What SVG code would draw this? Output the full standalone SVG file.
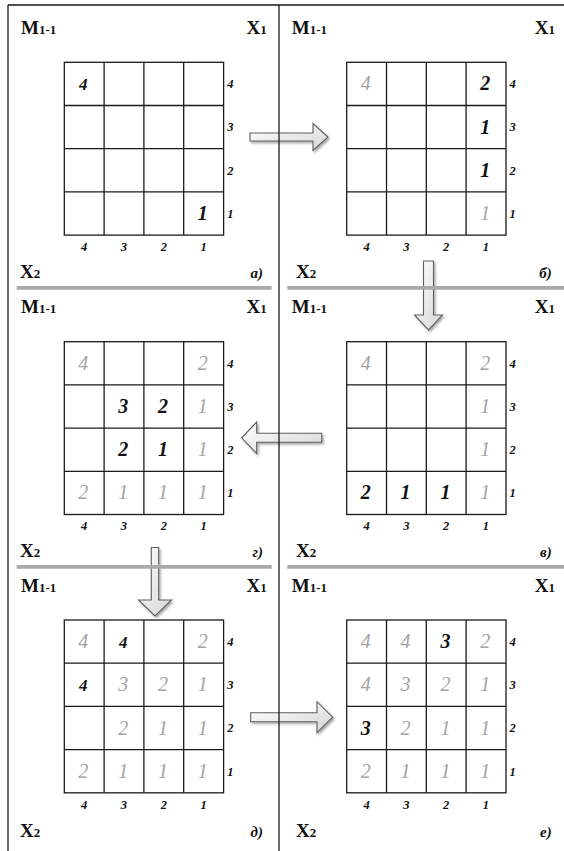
<svg xmlns="http://www.w3.org/2000/svg" xmlns:xlink="http://www.w3.org/1999/xlink" width="564" height="851" viewBox="0 0 564 851">
<style>
.hd{font-family:"Liberation Serif","DejaVu Serif",serif;font-weight:bold;fill:#111}
.big{font-size:19px}
.sub{font-size:13px}
.lt{font-family:"Liberation Serif","DejaVu Serif",serif;font-style:italic;font-weight:bold;font-size:15px;fill:#111;text-anchor:end}
.ax{font-family:"Liberation Serif","DejaVu Serif",serif;font-style:italic;font-weight:bold;font-size:12.5px;fill:#111;text-anchor:middle}
.k{font-family:"Liberation Serif","DejaVu Serif",serif;font-style:italic;font-weight:bold;font-size:20px;fill:#111;text-anchor:middle}
.k4{font-size:17px}
.g{font-family:"Liberation Serif","DejaVu Serif",serif;font-style:italic;font-size:20px;fill:#a3a3a3;text-anchor:middle}
.frame{stroke:#1a1a1a;stroke-width:1.3;fill:none}
.sep{stroke:#aaaaaa;stroke-width:3.8;fill:none}
.arr{fill:url(#ag);stroke:#606060;stroke-width:1.1;stroke-linejoin:miter;filter:url(#sh)}
</style>
<defs>
<linearGradient id="ag" x1="0" y1="0" x2="1" y2="1">
<stop offset="0" stop-color="#ffffff"/>
<stop offset="1" stop-color="#d6d6d6"/>
</linearGradient>
<filter id="sh" x="-30%" y="-30%" width="160%" height="160%">
<feDropShadow dx="1.5" dy="1.8" stdDeviation="1.3" flood-color="#000" flood-opacity="0.35"/>
</filter>
<g id="grid">
<rect x="0" y="0" width="159.3" height="172.8" fill="#fff" stroke="#1a1a1a" stroke-width="1.3"/>
<path d="M39.8 0V172.8M79.6 0V172.8M119.4 0V172.8M0 43.2H159.3M0 86.4H159.3M0 129.6H159.3" stroke="#1a1a1a" stroke-width="1.3" fill="none"/>
<text class="ax" x="19.9" y="188.5">4</text><text class="ax" x="59.7" y="188.5">3</text><text class="ax" x="99.5" y="188.5">2</text><text class="ax" x="139.3" y="188.5">1</text>
<text class="ax" x="166" y="26">4</text><text class="ax" x="166" y="69.2">3</text><text class="ax" x="166" y="112.4">2</text><text class="ax" x="166" y="155.6">1</text>
</g>
</defs>
<rect x="0" y="0" width="564" height="851" fill="#fff"/>

<g id="connectors">
<polygon class="arr" points="250,133 313,133 313,123.5 328,137 313,150.5 313,141 250,141"/>
<polygon class="arr" points="423.5,261 433.5,261 433.5,315 442.5,315 428.5,330 414.5,315 423.5,315"/>
<polygon class="arr" points="321.7,433.3 256.7,433.3 256.7,422 241.7,437.8 256.7,453.6 256.7,442.3 321.7,442.3"/>
<polygon class="arr" points="151.3,547.5 158.7,547.5 158.7,600 171.5,600 155,616 138.5,600 151.3,600"/>
<polygon class="arr" points="250.7,712.7 317,712.7 317,701.7 332.7,717.2 317,732.7 317,721.7 250.7,721.7"/>
</g>

<g id="frame">
<path class="frame" d="M8 5H564M8 5V851M279 5V851"/>
<path class="sep" d="M16.7 287.8H271.7M287.3 287.8H564M16.7 566.8H271.7M287.3 566.8H564"/>
</g>

<g id="panel-a">
<text class="hd" x="21" y="34"><tspan class="big">M</tspan><tspan class="sub">1-1</tspan></text>
<text class="hd" x="266.7" y="34" text-anchor="end"><tspan class="big">X</tspan><tspan class="sub">1</tspan></text>
<text class="hd" x="20" y="278"><tspan class="big">X</tspan><tspan class="sub">2</tspan></text>
<text class="lt" x="263" y="278">а)</text>
<g transform="translate(64.3,62.3)">
<use href="#grid"/>
<text class="k k4" x="19" y="27.6">4</text>
<text class="k" x="138.5" y="28.1" dy="129.6">1</text>
</g>
</g>

<g id="panel-b">
<text class="hd" x="291.7" y="34"><tspan class="big">M</tspan><tspan class="sub">1-1</tspan></text>
<text class="hd" x="555" y="34" text-anchor="end"><tspan class="big">X</tspan><tspan class="sub">1</tspan></text>
<text class="hd" x="296" y="278"><tspan class="big">X</tspan><tspan class="sub">2</tspan></text>
<text class="lt" x="551.7" y="278">б)</text>
<g transform="translate(346.7,62.3)">
<use href="#grid"/>
<text class="g" x="19" y="28.1">4</text>
<text class="k" x="138.5" y="28.1">2</text>
<text class="k" x="138.5" y="71.3">1</text>
<text class="k" x="138.5" y="114.5">1</text>
<text class="g" x="138.5" y="157.7">1</text>
</g>
</g>

<g id="panel-v">
<text class="hd" x="291.7" y="313"><tspan class="big">M</tspan><tspan class="sub">1-1</tspan></text>
<text class="hd" x="555" y="313" text-anchor="end"><tspan class="big">X</tspan><tspan class="sub">1</tspan></text>
<text class="hd" x="296" y="557"><tspan class="big">X</tspan><tspan class="sub">2</tspan></text>
<text class="lt" x="551.7" y="557">в)</text>
<g transform="translate(346.7,341.7)">
<use href="#grid"/>
<text class="g" x="19" y="28.1">4</text>
<text class="g" x="138.5" y="28.1">2</text>
<text class="g" x="138.5" y="71.3">1</text>
<text class="g" x="138.5" y="114.5">1</text>
<text class="k" x="19" y="157.7">2</text>
<text class="k" x="58.9" y="157.7">1</text>
<text class="k" x="98.7" y="157.7">1</text>
<text class="g" x="138.5" y="157.7">1</text>
</g>
</g>

<g id="panel-g">
<text class="hd" x="21" y="313"><tspan class="big">M</tspan><tspan class="sub">1-1</tspan></text>
<text class="hd" x="266.7" y="313" text-anchor="end"><tspan class="big">X</tspan><tspan class="sub">1</tspan></text>
<text class="hd" x="20" y="557"><tspan class="big">X</tspan><tspan class="sub">2</tspan></text>
<text class="lt" x="263" y="557">г)</text>
<g transform="translate(64.3,341.7)">
<use href="#grid"/>
<text class="g" x="19" y="28.1">4</text>
<text class="g" x="138.5" y="28.1">2</text>
<text class="k" x="58.9" y="71.3">3</text>
<text class="k" x="98.7" y="71.3">2</text>
<text class="g" x="138.5" y="71.3">1</text>
<text class="k" x="58.9" y="114.5">2</text>
<text class="k" x="98.7" y="114.5">1</text>
<text class="g" x="138.5" y="114.5">1</text>
<text class="g" x="19" y="157.7">2</text>
<text class="g" x="58.9" y="157.7">1</text>
<text class="g" x="98.7" y="157.7">1</text>
<text class="g" x="138.5" y="157.7">1</text>
</g>
</g>

<g id="panel-d">
<text class="hd" x="21" y="592"><tspan class="big">M</tspan><tspan class="sub">1-1</tspan></text>
<text class="hd" x="266.7" y="592" text-anchor="end"><tspan class="big">X</tspan><tspan class="sub">1</tspan></text>
<text class="hd" x="20" y="837"><tspan class="big">X</tspan><tspan class="sub">2</tspan></text>
<text class="lt" x="263" y="837">д)</text>
<g transform="translate(64.3,620)">
<use href="#grid"/>
<text class="g" x="19" y="28.1">4</text>
<text class="k k4" x="58.9" y="27.6">4</text>
<text class="g" x="138.5" y="28.1">2</text>
<text class="k k4" x="19" y="70.8">4</text>
<text class="g" x="58.9" y="71.3">3</text>
<text class="g" x="98.7" y="71.3">2</text>
<text class="g" x="138.5" y="71.3">1</text>
<text class="g" x="58.9" y="114.5">2</text>
<text class="g" x="98.7" y="114.5">1</text>
<text class="g" x="138.5" y="114.5">1</text>
<text class="g" x="19" y="157.7">2</text>
<text class="g" x="58.9" y="157.7">1</text>
<text class="g" x="98.7" y="157.7">1</text>
<text class="g" x="138.5" y="157.7">1</text>
</g>
</g>

<g id="panel-e">
<text class="hd" x="291.7" y="592"><tspan class="big">M</tspan><tspan class="sub">1-1</tspan></text>
<text class="hd" x="555" y="592" text-anchor="end"><tspan class="big">X</tspan><tspan class="sub">1</tspan></text>
<text class="hd" x="296" y="837"><tspan class="big">X</tspan><tspan class="sub">2</tspan></text>
<text class="lt" x="551.7" y="837">е)</text>
<g transform="translate(346.7,620)">
<use href="#grid"/>
<text class="g" x="19" y="28.1">4</text>
<text class="g" x="58.9" y="28.1">4</text>
<text class="k" x="98.7" y="28.1">3</text>
<text class="g" x="138.5" y="28.1">2</text>
<text class="g" x="19" y="71.3">4</text>
<text class="g" x="58.9" y="71.3">3</text>
<text class="g" x="98.7" y="71.3">2</text>
<text class="g" x="138.5" y="71.3">1</text>
<text class="k" x="19" y="114.5">3</text>
<text class="g" x="58.9" y="114.5">2</text>
<text class="g" x="98.7" y="114.5">1</text>
<text class="g" x="138.5" y="114.5">1</text>
<text class="g" x="19" y="157.7">2</text>
<text class="g" x="58.9" y="157.7">1</text>
<text class="g" x="98.7" y="157.7">1</text>
<text class="g" x="138.5" y="157.7">1</text>
</g>
</g>
</svg>
